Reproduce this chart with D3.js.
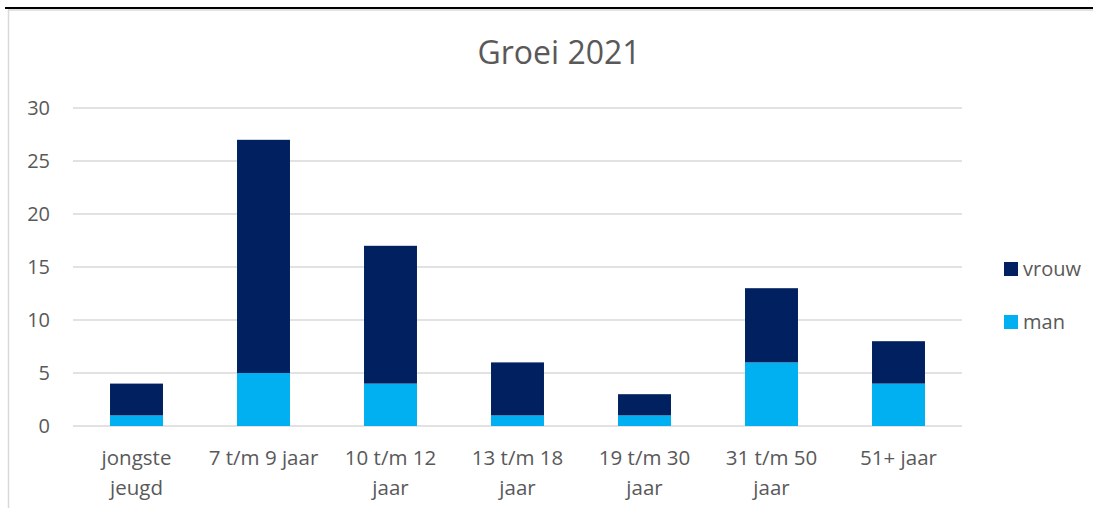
<!DOCTYPE html>
<head>
<meta charset="utf-8">
<script src="https://d3js.org/d3.v7.min.js"></script>
<style>
  body { margin: 0; background: #fff; }
  svg { font-family: "Open Sans", "Noto Sans", sans-serif; }
  text { fill: #595959; }
  .grid-line { stroke: #d9d9d9; stroke-width: 1.5px; }
</style>
</head>
<body>
<script>
var categories = ["jongste jeugd", "7 t/m 9 jaar", "10 t/m 12 jaar", "13 t/m 18 jaar", "19 t/m 30 jaar", "31 t/m 50 jaar", "51+ jaar"];
var man   = [1, 5, 4, 1, 1, 6, 4];
var vrouw = [3, 22, 13, 5, 2, 7, 4];
var yTicks = [0, 5, 10, 15, 20, 25, 30];
var seriesNames = ["vrouw", "man"];
var colors = {vrouw: "#002060", man: "#00b0f0"};

var W = 1093, H = 508;
var svg = d3.select("body").append("svg").attr("width", W).attr("height", H);

// frame
svg.append("line").attr("x1", 5).attr("x2", W).attr("y1", 8).attr("y2", 8)
  .attr("stroke", "#000").attr("stroke-width", 2);
svg.append("line").attr("x1", 8).attr("x2", W).attr("y1", 10).attr("y2", 10)
  .attr("stroke", "#d9d9d9").attr("stroke-width", 1.5);
svg.append("line").attr("x1", 8.5).attr("x2", 8.5).attr("y1", 10).attr("y2", H)
  .attr("stroke", "#d9d9d9").attr("stroke-width", 1.5);

var rows = categories.map(function(c, i) { return {cat: c, man: man[i], vrouw: vrouw[i]}; });
var stack = d3.stack().keys(["man", "vrouw"])(rows);

var x = d3.scaleBand().domain(categories).range([73, 962]).paddingInner(0.583).paddingOuter(0.2915);
var y = d3.scaleLinear().domain([0, 30]).range([426, 108]);

// gridlines
svg.append("g").selectAll("line").data(yTicks).enter().append("line")
  .attr("class", "grid-line")
  .attr("x1", 73).attr("x2", 962)
  .attr("y1", function(d) { return y(d); }).attr("y2", function(d) { return y(d); });

// y axis labels
var yAxis = d3.axisLeft(y).tickValues(yTicks).tickSize(0).tickPadding(0);
var yg = svg.append("g").attr("transform", "translate(50,0)").call(yAxis);
yg.select(".domain").remove();
yg.selectAll("text").style("font-size", "20px").attr("fill", "#595959").attr("font-family", "'Open Sans', sans-serif");

// bars
svg.append("g").selectAll("g").data(stack).enter().append("g")
  .attr("fill", function(d) { return colors[d.key]; })
  .selectAll("rect").data(function(d) { return d; }).enter().append("rect")
  .attr("x", function(d) { return x(d.data.cat); })
  .attr("width", x.bandwidth())
  .attr("y", function(d) { return y(d[1]); })
  .attr("height", function(d) { return y(d[0]) - y(d[1]); });

// x labels (wrapped like Excel)
var xLines = {
  "jongste jeugd": ["jongste", "jeugd"],
  "7 t/m 9 jaar": ["7 t/m 9 jaar"],
  "10 t/m 12 jaar": ["10 t/m 12", "jaar"],
  "13 t/m 18 jaar": ["13 t/m 18", "jaar"],
  "19 t/m 30 jaar": ["19 t/m 30", "jaar"],
  "31 t/m 50 jaar": ["31 t/m 50", "jaar"],
  "51+ jaar": ["51+ jaar"]
};
var xl = svg.append("g").selectAll("text").data(categories).enter().append("text")
  .attr("text-anchor", "middle")
  .style("font-size", "20.5px")
  .attr("x", function(d) { return x(d) + x.bandwidth() / 2; })
  .attr("y", 465);
xl.selectAll("tspan").data(function(d) { return xLines[d]; }).enter().append("tspan")
  .attr("x", function() { return d3.select(this.parentNode).attr("x"); })
  .attr("dy", function(d, i) { return i === 0 ? 0 : 30; })
  .text(function(d) { return d; });

// title
svg.append("text").attr("x", 559).attr("y", 64).attr("text-anchor", "middle")
  .style("font-size", "32px").text("Groei 2021");

// legend
var leg = svg.append("g").selectAll("g").data(seriesNames).enter().append("g")
  .attr("transform", function(d, i) { return "translate(1004," + (269 + i * 53) + ")"; });
leg.append("rect").attr("x", 0).attr("y", -7).attr("width", 14).attr("height", 14)
  .attr("fill", function(d) { return colors[d]; });
leg.append("text").attr("x", 19).attr("y", 7).style("font-size", "20px")
  .text(function(d) { return d; });
</script>
</body>
